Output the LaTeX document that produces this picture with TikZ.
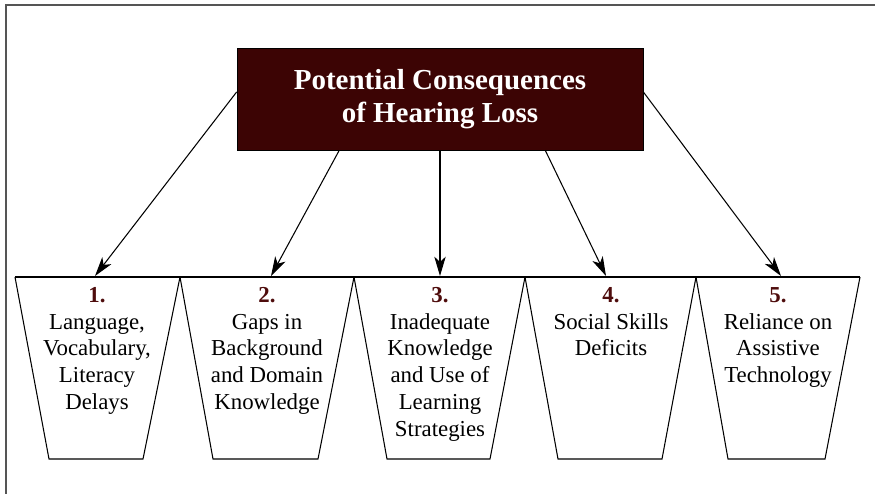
\documentclass[tikz,border=0pt]{standalone}
\usepackage{fontspec}
\setmainfont{Liberation Serif}
\usetikzlibrary{arrows.meta}
\definecolor{lossbrown}{HTML}{3C0404}
\definecolor{numbrown}{HTML}{4E0C0C}
\definecolor{framegray}{HTML}{555555}

\begin{document}
\begin{tikzpicture}[x=0.02cm,y=-0.02cm,
    titlebox/.style={draw=black,fill=lossbrown,text=white,minimum width=8.12cm,minimum height=2.04cm,
      align=center,font=\fontsize{16.5}{18.5}\selectfont\bfseries},
    cup/.style={semithick,line join=miter},
    cuptext/.style={anchor=north,align=center,inner sep=0pt,font=\fontsize{13}{15.2}\selectfont},
    conseq/.style={semithick,-{Stealth[length=11pt,width=6.5pt,inset=3pt]}}]
    \useasboundingbox (0,0) rectangle (875,494);
    \draw[framegray,line width=1.1pt] (875,5) -- (6,5) -- (6,494);

    \node[titlebox] (loss) at (440,99) {Potential Consequences\\of Hearing Loss};

    \draw[cup] (15,277) -- (860,277);
    \draw[cup] (15,277) -- (49,459) -- (143,459) -- (180,277);
    \draw[cup] (180,277) -- (213,459) -- (318,459) -- (354,277);
    \draw[cup] (354,277) -- (387,459) -- (490,459) -- (525,277);
    \draw[cup] (525,277) -- (558,459) -- (662,459) -- (696,277);
    \draw[cup] (696,277) -- (728,459) -- (825,459) -- (860,277);

    \coordinate (c1) at (95,276);
    \coordinate (c2) at (271,276);
    \coordinate (c3) at (440,276);
    \coordinate (c4) at (606,276);
    \coordinate (c5) at (781,276);

    \node[cuptext] (d1) at (97,287) {\textbf{\color{numbrown}1.}\\Language,\\Vocabulary,\\Literacy\\Delays};
    \node[cuptext] (d2) at (267,287) {\textbf{\color{numbrown}2.}\\Gaps in\\Background\\and Domain\\Knowledge};
    \node[cuptext] (d3) at (440,287) {\textbf{\color{numbrown}3.}\\Inadequate\\Knowledge\\and Use of\\Learning\\Strategies};
    \node[cuptext] (d4) at (611,287) {\textbf{\color{numbrown}4.}\\Social Skills\\Deficits};
    \node[cuptext] (d5) at (778,287) {\textbf{\color{numbrown}5.}\\Reliance on\\Assistive\\Technology};

    \draw[conseq] (loss.178) -- (c1);
    \draw[conseq] (loss.207) -- (c2);
    \draw[conseq] (loss.south) -- (c3);
    \draw[conseq] (loss.-26) -- (c4);
    \draw[conseq] (loss.2) -- (c5);
\end{tikzpicture}
\end{document}
